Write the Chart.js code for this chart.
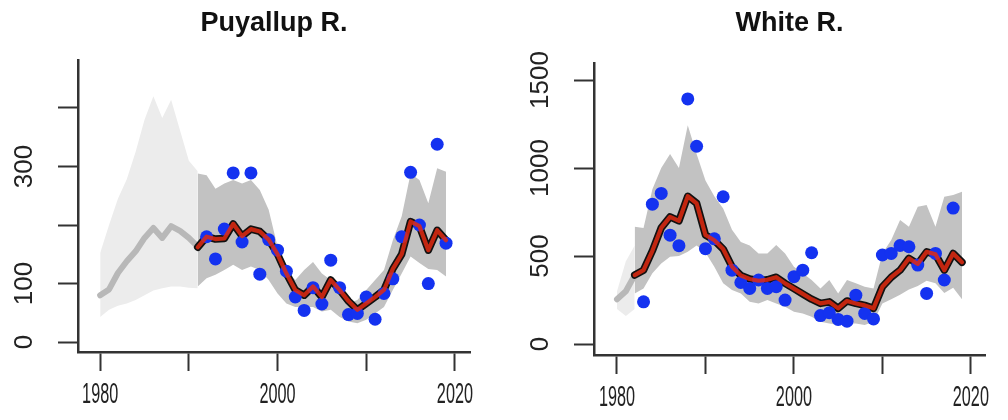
<!DOCTYPE html>
<html lang="en">
<head>
  <meta charset="UTF-8">
  <title>Puyallup R. / White R.</title>
  <script src="https://cdn.jsdelivr.net/npm/chart.js"></script>
  <style>
    body { margin: 0; background: #fff; }
    .painel { position: absolute; top: 0; width: 504px; height: 420px; }
  </style>
</head>
<body>

<div class="painel" style="left:0"><canvas id="puyallup" width="504" height="420"></canvas></div>
<div class="painel" style="left:504px"><canvas id="white" width="504" height="420"></canvas></div>

<script>
// shared axis ticks
const xTickVals = [1980, 1990, 2000, 2010, 2020];
const xTickLabels = ['1980', '', '2000', '', '2020'];

// ---- Puyallup R. ----
const puyTickVals = [0, 100, 200, 300, 400];
const puyTickLabels = ['0', '100', '', '300', ''];

const puyPriorYears = [1980, 1981, 1982, 1983, 1984, 1985, 1986, 1987, 1988, 1989, 1990, 1991];
const puyPriorLow  = [43, 55, 62, 66, 72, 80, 88, 92, 95, 95, 93, 92];
const puyPriorHigh = [152, 200, 245, 278, 325, 380, 420, 383, 414, 362, 310, 292];
const puyPriorMid  = [80, 90, 118, 138, 155, 178, 195, 178, 198, 190, 178, 163];

const puyYears = [1991, 1992, 1993, 1994, 1995, 1996, 1997, 1998, 1999, 2000,
                  2001, 2002, 2003, 2004, 2005, 2006, 2007, 2008, 2009, 2010,
                  2011, 2012, 2013, 2014, 2015, 2016, 2017, 2018, 2019];
const puyLow  = [95, 109, 115, 123, 132, 123, 129, 123, 106, 83,
                 66, 60, 60, 60, 52, 55, 43, 35, 32, 38,
                 49, 60, 89, 117, 146, 135, 125, 123, 112];
const puyHigh = [288, 285, 262, 271, 277, 271, 277, 260, 226, 163,
                 123, 106, 123, 137, 117, 106, 83, 66, 72, 89,
                 106, 123, 174, 215, 288, 277, 237, 297, 291];
const puyMid  = [162, 180, 176, 177, 202, 181, 193, 189, 175, 150,
                 117, 89, 80, 95, 77, 106, 89, 70, 55, 66,
                 77, 89, 125, 150, 206, 198, 157, 191, 174];

const puyObsYears = [1992, 1993, 1994, 1995, 1996, 1997, 1998, 1999, 2000, 2001,
                     2002, 2003, 2004, 2005, 2006, 2007, 2008, 2009, 2010, 2011,
                     2012, 2013, 2014, 2015, 2016, 2017, 2018, 2019];
const puyObs = [180, 142, 193, 289, 171, 289, 116, 175, 157, 121,
                77, 54, 93, 65, 140, 93, 47, 49, 77, 39,
                83, 108, 180, 290, 200, 100, 338, 169];

// ---- White R. ----
const whiteTickVals = [0, 500, 1000, 1500];
const whiteTickLabels = ['0', '500', '1000', '1500'];

const whitePriorYears = [1980, 1981, 1982];
const whitePriorLow  = [200, 160, 200];
const whitePriorHigh = [300, 470, 560];
const whitePriorMid  = [255, 300, 392];

const whiteYears = [1982, 1983, 1984, 1985, 1986, 1987, 1988, 1989, 1990, 1991,
                    1992, 1993, 1994, 1995, 1996, 1997, 1998, 1999, 2000, 2001,
                    2002, 2003, 2004, 2005, 2006, 2007, 2008, 2009, 2010, 2011,
                    2012, 2013, 2014, 2015, 2016, 2017, 2018, 2019];
const whiteLow  = [288, 316, 402, 458, 496, 500, 525, 560, 520, 439,
                   345, 307, 288, 240, 231, 250, 231, 212, 184, 174,
                   155, 127, 117, 108, 117, 117, 108, 127, 230, 255,
                   280, 310, 330, 360, 345, 290, 320, 255];
const whiteHigh = [667, 660, 880, 1000, 1080, 1000, 1244, 1080, 930, 840,
                   770, 650, 580, 560, 515, 515, 563, 515, 439, 402,
                   364, 316, 364, 288, 364, 345, 326, 316, 515, 591,
                   705, 667, 780, 790, 667, 837, 847, 866];
const whiteMid  = [392, 420, 530, 660, 723, 700, 840, 800, 620, 590,
                   540, 440, 390, 370, 360, 365, 380, 345, 315, 285,
                   255, 231, 240, 203, 245, 231, 220, 203, 326, 380,
                   420, 487, 455, 524, 510, 420, 515, 465];

const whiteObsYears = [1983, 1984, 1985, 1986, 1987, 1988, 1989, 1990, 1991, 1992,
                       1993, 1994, 1995, 1996, 1997, 1998, 1999, 2000, 2001, 2002,
                       2003, 2004, 2005, 2006, 2007, 2008, 2009, 2010, 2011, 2012,
                       2013, 2014, 2015, 2016, 2017, 2018];
const whiteObs = [240, 795, 856, 619, 559, 1393, 1124, 542, 598, 837,
                  420, 350, 316, 364, 316, 326, 250, 383, 420, 519,
                  162, 178, 140, 130, 278, 174, 143, 506, 515, 560,
                  553, 449, 288, 515, 364, 773];

const FONTE = "'Liberation Sans', Arial, sans-serif";

function pts(xs, ys) {
  return xs.map((x, i) => ({ x: x, y: ys[i] }));
}

// R-style tick labels: x squeezed, y rotated
function rotulos(yVals, yLabels) {
  return {
    id: 'rotulos',
    afterDraw(chart) {
      const ctx = chart.ctx;
      const area = chart.chartArea;
      const sx = chart.scales.x, sy = chart.scales.y;
      ctx.save();
      ctx.fillStyle = '#222';
      ctx.textAlign = 'center';
      ctx.textBaseline = 'middle';
      ctx.font = '29px ' + FONTE;
      xTickVals.forEach((v, i) => {
        if (!xTickLabels[i]) return;
        ctx.save();
        ctx.translate(sx.getPixelForValue(v), area.bottom + 43);
        ctx.scale(0.56, 1);
        ctx.fillText(xTickLabels[i], 0, 0);
        ctx.restore();
      });
      ctx.font = '26px ' + FONTE;
      yVals.forEach((v, i) => {
        if (!yLabels[i]) return;
        ctx.save();
        ctx.translate(area.left - 53, sy.getPixelForValue(v));
        ctx.rotate(-Math.PI / 2);
        ctx.fillText(yLabels[i], 0, 0);
        ctx.restore();
      });
      ctx.restore();
    }
  };
}

function gerarPainel(id, o) {
  const nada = 'rgba(0,0,0,0)';
  new Chart(document.getElementById(id), {
    type: 'line',
    data: {
      datasets: [
        { data: pts(o.priorYears, o.priorLow), borderColor: nada, borderWidth: 0, pointRadius: 0, fill: false, order: 10 },
        { data: pts(o.priorYears, o.priorHigh), borderColor: nada, borderWidth: 0, pointRadius: 0, fill: '-1', backgroundColor: '#ececec', order: 9 },
        { data: pts(o.years, o.low), borderColor: nada, borderWidth: 0, pointRadius: 0, fill: false, order: 8 },
        { data: pts(o.years, o.high), borderColor: nada, borderWidth: 0, pointRadius: 0, fill: '-1', backgroundColor: '#c2c2c2', order: 7 },
        { data: pts(o.priorYears, o.priorMid), borderColor: '#b8b8b8', borderWidth: 6, pointRadius: 0, fill: false,
          borderJoinStyle: 'round', borderCapStyle: 'round', order: 6 },
        { data: pts(o.years, o.mid), borderColor: '#111', borderWidth: 7.5, pointRadius: 0, fill: false,
          borderJoinStyle: 'round', borderCapStyle: 'round', order: 5 },
        { data: pts(o.obsYears, o.obs), showLine: false, pointRadius: 6.5, pointBackgroundColor: '#1432f0',
          pointBorderWidth: 0, pointBorderColor: nada, order: 4 },
        { data: pts(o.years, o.mid), borderColor: 'rgba(226,42,16,0.85)', borderWidth: 4.2, pointRadius: 0, fill: false,
          borderJoinStyle: 'round', borderCapStyle: 'round', order: 3 }
      ]
    },
    options: {
      responsive: false,
      animation: false,
      layout: { padding: { left: 0, right: o.padRight, top: 0, bottom: 0 } },
      plugins: {
        legend: { display: false },
        tooltip: { enabled: false },
        title: {
          display: true,
          text: o.title,
          fullSize: false,
          color: '#111',
          font: { size: 27, weight: 'bold', family: FONTE, lineHeight: 1.2 },
          padding: { top: 7, bottom: o.titleGap }
        }
      },
      scales: {
        x: {
          type: 'linear',
          min: o.xMin, max: o.xMax,
          afterBuildTicks: s => { s.ticks = xTickVals.map(v => ({ value: v })); },
          afterFit: s => { s.height = o.xHeight; },
          ticks: { display: false },
          grid: { drawOnChartArea: false, drawTicks: true, tickLength: 19, tickWidth: 2, tickColor: '#333' },
          border: { display: true, color: '#333', width: 2.5 }
        },
        y: {
          type: 'linear',
          min: o.yMin, max: o.yMax,
          afterBuildTicks: s => { s.ticks = o.yVals.map(v => ({ value: v })); },
          afterFit: s => { s.width = o.yWidth; },
          ticks: { display: false },
          grid: { drawOnChartArea: false, drawTicks: true, tickLength: 20, tickWidth: 2, tickColor: '#333' },
          border: { display: true, color: '#333', width: 2.5 }
        }
      }
    },
    plugins: [rotulos(o.yVals, o.yLabels)]
  });
}

gerarPainel('puyallup', {
  title: 'Puyallup R.',
  priorYears: puyPriorYears, priorLow: puyPriorLow, priorHigh: puyPriorHigh, priorMid: puyPriorMid,
  years: puyYears, low: puyLow, high: puyHigh, mid: puyMid,
  obsYears: puyObsYears, obs: puyObs,
  yVals: puyTickVals, yLabels: puyTickLabels,
  xMin: 1977.5, xMax: 2021.7, yMin: -17, yMax: 482,
  yWidth: 78, xHeight: 68, padRight: 34, titleGap: 20.6
});

gerarPainel('white', {
  title: 'White R.',
  priorYears: whitePriorYears, priorLow: whitePriorLow, priorHigh: whitePriorHigh, priorMid: whitePriorMid,
  years: whiteYears, low: whiteLow, high: whiteHigh, mid: whiteMid,
  obsYears: whiteObsYears, obs: whiteObs,
  yVals: whiteTickVals, yLabels: whiteTickLabels,
  xMin: 1977.4, xMax: 2021.6, yMin: -62, yMax: 1597,
  yWidth: 90, xHeight: 65, padRight: 23, titleGap: 23.6
});
</script>

</body>
</html>
